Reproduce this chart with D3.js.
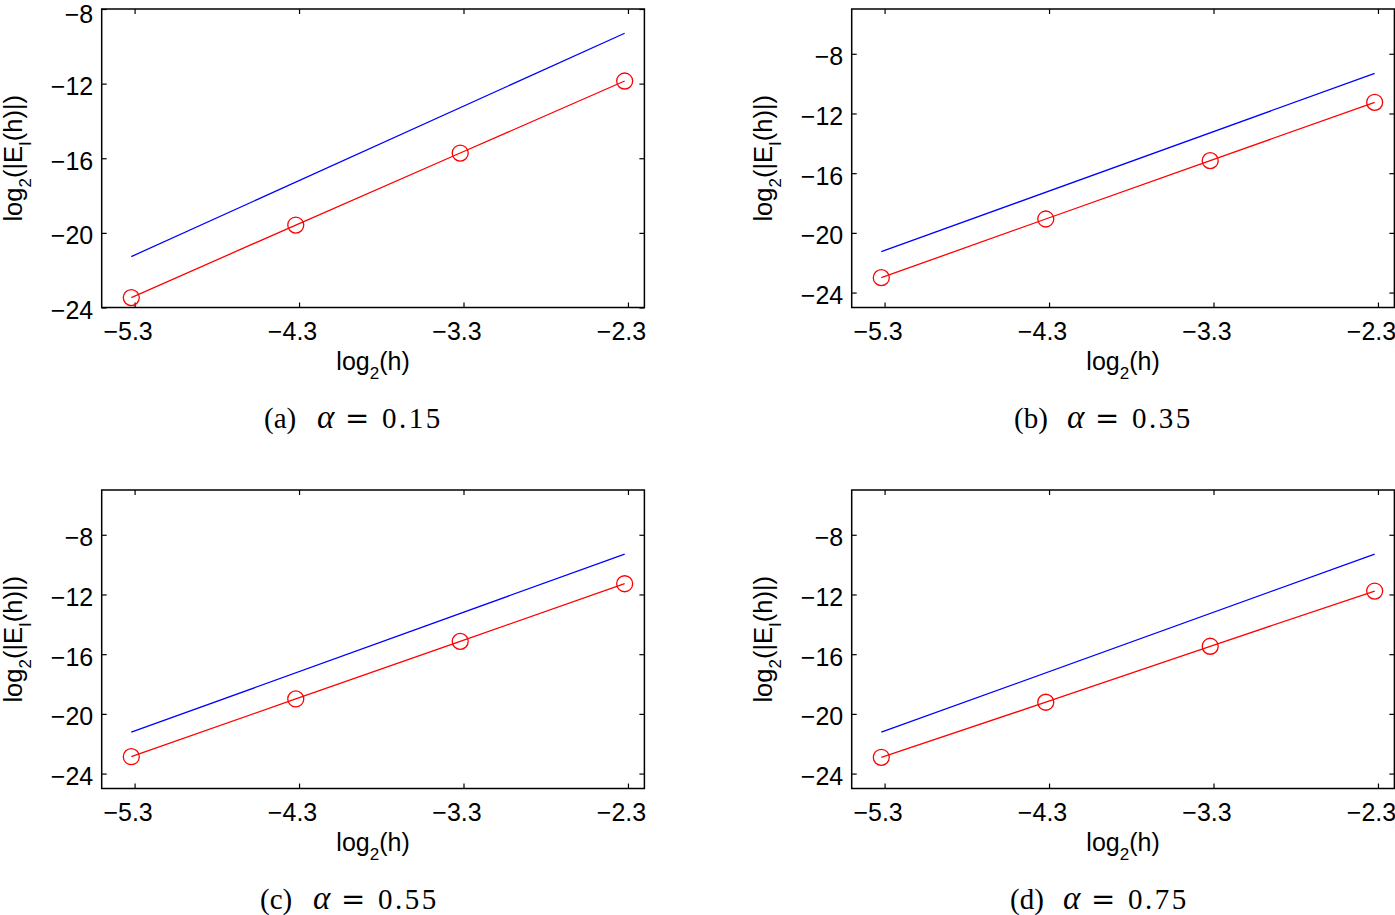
<!DOCTYPE html>
<html>
<head>
<meta charset="utf-8">
<script src="https://cdn.jsdelivr.net/npm/d3@7"></script>
<style>
  html, body { margin: 0; padding: 0; background: #fff; }
  svg { display: block; }
</style>
</head>
<body>
<svg id="chart" width="1395" height="915"></svg>
<script>
// ---------------- data ----------------
const xValues = [-5.32, -4.32, -3.32, -2.32];      // log2(h)
const xTicks = [-5.3, -4.3, -3.3, -2.3];
const yTicks = [-24, -20, -16, -12, -8];
const xDomain = [-5.5, -2.2];
const yDomainA = [-24, -8];
const yDomainBCD = [-25, -5];

const errA = [-23.47, -19.58, -15.72, -11.86];
const errB = [-23.00, -19.07, -15.16, -11.25];
const errC = [-22.87, -19.00, -15.14, -11.28];
const errD = [-22.91, -19.22, -15.47, -11.77];

const refX = [-5.32, -2.32];
const refA = [-21.27, -9.30];
const refB = [-21.26, -9.31];
const refC = [-21.23, -9.29];
const refD = [-21.23, -9.29];

const panelLetters = ["(a)", "(b)", "(c)", "(d)"];
const alphaValues = ["0.15", "0.35", "0.55", "0.75"];

// ---------------- layout ----------------
const W = 542.7, H = 298.5;
const panels = [
  { x0: 101.7, y0: 9,   yDomain: yDomainA,   err: errA, ref: refA, capShift: -109 },
  { x0: 851.7, y0: 9,   yDomain: yDomainBCD, err: errB, ref: refB, capShift: -109 },
  { x0: 101.7, y0: 490, yDomain: yDomainBCD, err: errC, ref: refC, capShift: -113 },
  { x0: 851.7, y0: 490, yDomain: yDomainBCD, err: errD, ref: refD, capShift: -113 }
];

const svg = d3.select("#chart");
const sans = "'Liberation Sans', Arial, Helvetica, sans-serif";
const serif = "'Liberation Serif', 'Times New Roman', Times, serif";
const fmt = d3.format(".1f");

panels.forEach((p, i) => {
  const g = svg.append("g");
  const x = d3.scaleLinear().domain(xDomain).range([p.x0, p.x0 + W]);
  const y = d3.scaleLinear().domain(p.yDomain).range([p.y0 + H, p.y0]);

  // bottom axis (ticks inward)
  const gb = g.append("g").attr("transform", `translate(0,${p.y0 + H})`)
    .call(d3.axisBottom(x).tickValues(xTicks).tickFormat(fmt).tickSizeInner(-5).tickSizeOuter(0));
  gb.selectAll("text").attr("y", 32).attr("dy", 0).attr("dx", -7)
    .style("font-family", sans).style("font-size", "25px").attr("fill", "#000");
  // top axis ticks
  g.append("g").attr("transform", `translate(0,${p.y0})`)
    .call(d3.axisTop(x).tickValues(xTicks).tickFormat("").tickSizeInner(-5).tickSizeOuter(0));
  // left axis
  const gl = g.append("g").attr("transform", `translate(${p.x0},0)`)
    .call(d3.axisLeft(y).tickValues(yTicks).tickFormat(d3.format("d")).tickSizeInner(-5).tickSizeOuter(0));
  gl.selectAll("text").attr("x", -8.5).attr("dy", "0.32em")
    .attr("y", d => (y(d) - p.y0 < 4 ? 5 : 3))
    .style("font-family", sans).style("font-size", "25px").attr("fill", "#000");
  // right axis ticks
  g.append("g").attr("transform", `translate(${p.x0 + W},0)`)
    .call(d3.axisRight(y).tickValues(yTicks).tickFormat("").tickSizeInner(-5).tickSizeOuter(0));

  g.selectAll(".domain").remove();
  g.selectAll(".tick line").attr("stroke", "#000").attr("stroke-width", 1.2);

  // box
  g.append("rect").attr("x", p.x0).attr("y", p.y0).attr("width", W).attr("height", H)
    .attr("fill", "none").attr("stroke", "#000").attr("stroke-width", 1.5);

  // reference line (blue)
  const line = d3.line().x(d => x(d[0])).y(d => y(d[1]));
  g.append("path").datum(refX.map((v, k) => [v, p.ref[k]]))
    .attr("d", line).attr("fill", "none").attr("stroke", "#0000ff").attr("stroke-width", 1.3);

  // error line (red) with circles
  const pts = xValues.map((v, k) => [v, p.err[k]]);
  g.append("path").datum(pts).attr("d", line)
    .attr("fill", "none").attr("stroke", "#ff0000").attr("stroke-width", 1.3);
  g.selectAll("circle.m").data(pts).enter().append("circle")
    .attr("cx", d => x(d[0])).attr("cy", d => y(d[1])).attr("r", 8)
    .attr("fill", "none").attr("stroke", "#ff0000").attr("stroke-width", 1.3);

  const cx = p.x0 + W / 2;
  const cy = p.y0 + H / 2;

  // x label
  const xl = g.append("text").attr("x", cx).attr("y", p.y0 + H + 62.5)
    .attr("text-anchor", "middle").style("font-family", sans).style("font-size", "25px");
  xl.append("tspan").text("log");
  xl.append("tspan").attr("dy", 9).style("font-size", "17px").text("2");
  xl.append("tspan").attr("dy", -9).text("(h)");

  // y label
  const yl = g.append("text")
    .attr("transform", `translate(${p.x0 - 80},${cy}) rotate(-90)`)
    .attr("text-anchor", "middle").style("font-family", sans).style("font-size", "25.5px");
  yl.append("tspan").text("log");
  yl.append("tspan").attr("dy", 9).style("font-size", "17px").text("2");
  yl.append("tspan").attr("dy", -9).text("(|E");
  yl.append("tspan").attr("dy", 9).style("font-size", "17px").text("I");
  yl.append("tspan").attr("dy", -9).text("(h)|)");

  // caption
  const capX = cx + p.capShift;
  const capY = p.y0 + H + 120.5;
  const cap = g.append("g").style("font-family", serif).style("font-size", "29px");
  cap.append("text").attr("x", capX).attr("y", capY).text(panelLetters[i]);
  cap.append("text").attr("x", capX + 53).attr("y", capY)
    .style("font-style", "italic").style("font-size", "33px").text("α");
  cap.append("text").attr("x", capX + 81).attr("y", capY)
    .style("font-family", "'DejaVu Serif', serif").style("font-size", "29px").text("=");
  cap.append("text").attr("x", capX + 118).attr("y", capY).attr("letter-spacing", 2.5).text(alphaValues[i]);
});
</script>
</body>
</html>
